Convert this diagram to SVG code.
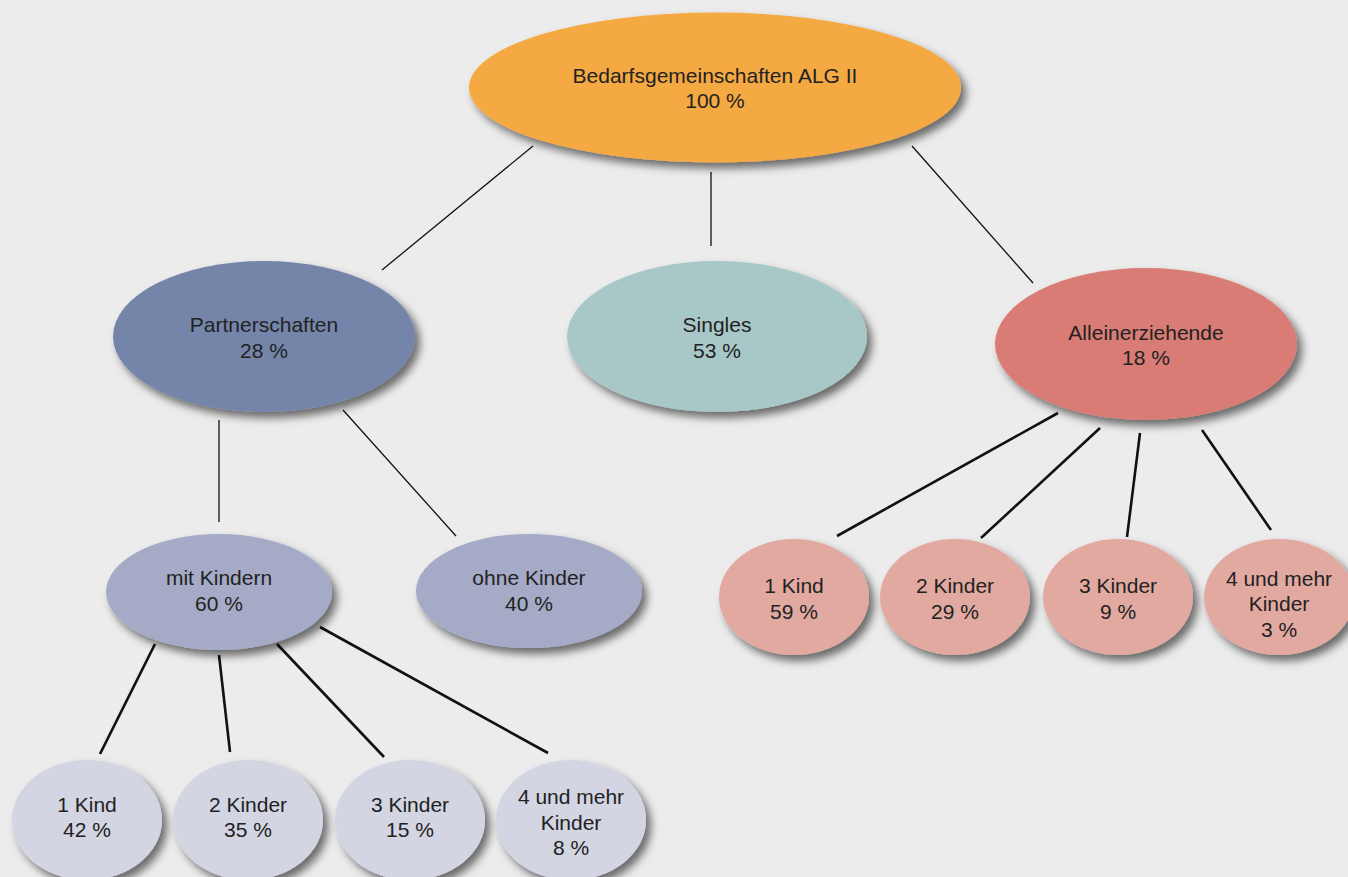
<svg xmlns="http://www.w3.org/2000/svg" width="1348" height="877" viewBox="0 0 1348 877">
<defs>
<filter id="sh" x="-20%" y="-20%" width="150%" height="160%">
<feDropShadow dx="5" dy="6" stdDeviation="4" flood-color="#000" flood-opacity="0.55"/>
</filter>
</defs>
<style>
text{font-family:"Liberation Sans",Arial,sans-serif;font-size:21px;fill:#222;text-anchor:middle}
.thin{stroke:#111;stroke-width:1.3;fill:none}
.thick{stroke:#111;stroke-width:2.6;fill:none}
ellipse{filter:url(#sh)}
</style>
<rect width="1348" height="877" fill="#ececec"/>
<g id="connectors">
<line class="thin" x1="533" y1="146" x2="382" y2="270"/>
<line class="thin" x1="711" y1="172" x2="711" y2="246"/>
<line class="thin" x1="912" y1="146" x2="1033" y2="283"/>
<line class="thin" x1="219" y1="420" x2="219" y2="522"/>
<line class="thin" x1="343" y1="410" x2="456" y2="536"/>
<line class="thick" x1="155" y1="644" x2="100" y2="754"/>
<line class="thick" x1="219" y1="655" x2="230" y2="752"/>
<line class="thick" x1="277" y1="644" x2="384" y2="757"/>
<line class="thick" x1="320" y1="627" x2="548" y2="753"/>
<line class="thick" x1="1058" y1="413" x2="837" y2="536"/>
<line class="thick" x1="1100" y1="428" x2="981" y2="538"/>
<line class="thick" x1="1140" y1="433" x2="1127" y2="537"/>
<line class="thick" x1="1202" y1="430" x2="1271" y2="530"/>
</g>
<g id="root"><ellipse cx="715" cy="87.5" rx="246" ry="75" fill="#f5a943"/><text x="715" y="83">Bedarfsgemeinschaften ALG II</text><text x="715" y="108">100 %</text></g>
<g id="partner"><ellipse cx="264" cy="336.5" rx="151" ry="75.5" fill="#7585aa"/><text x="264" y="332">Partnerschaften</text><text x="264" y="358">28 %</text></g>
<g id="singles"><ellipse cx="717" cy="336.5" rx="150" ry="75.5" fill="#a8c8c8"/><text x="717" y="332">Singles</text><text x="717" y="358">53 %</text></g>
<g id="allein"><ellipse cx="1146" cy="344" rx="151" ry="76" fill="#d97c74"/><text x="1146" y="340">Alleinerziehende</text><text x="1146" y="365">18 %</text></g>
<g id="mit"><ellipse cx="219" cy="592" rx="113" ry="58" fill="#a5abc6"/><text x="219" y="585">mit Kindern</text><text x="219" y="611">60 %</text></g>
<g id="ohne"><ellipse cx="529" cy="591" rx="113" ry="57" fill="#a5abc6"/><text x="529" y="585">ohne Kinder</text><text x="529" y="611">40 %</text></g>
<g id="p1"><ellipse cx="87" cy="820" rx="75" ry="60" fill="#d3d5e3"/><text x="87" y="812">1 Kind</text><text x="87" y="837">42 %</text></g>
<g id="p2"><ellipse cx="248" cy="820" rx="75" ry="60" fill="#d3d5e3"/><text x="248" y="812">2 Kinder</text><text x="248" y="837">35 %</text></g>
<g id="p3"><ellipse cx="410" cy="820" rx="75" ry="60" fill="#d3d5e3"/><text x="410" y="812">3 Kinder</text><text x="410" y="837">15 %</text></g>
<g id="p4"><ellipse cx="571" cy="820" rx="75" ry="60" fill="#d3d5e3"/><text x="571" y="804">4 und mehr</text><text x="571" y="830">Kinder</text><text x="571" y="855">8 %</text></g>
<g id="a1"><ellipse cx="794" cy="597" rx="75" ry="58" fill="#e2a9a0"/><text x="794" y="593">1 Kind</text><text x="794" y="619">59 %</text></g>
<g id="a2"><ellipse cx="955" cy="597" rx="75" ry="58" fill="#e2a9a0"/><text x="955" y="593">2 Kinder</text><text x="955" y="619">29 %</text></g>
<g id="a3"><ellipse cx="1118" cy="597" rx="75" ry="58" fill="#e2a9a0"/><text x="1118" y="593">3 Kinder</text><text x="1118" y="619">9 %</text></g>
<g id="a4"><ellipse cx="1279" cy="597" rx="75" ry="58" fill="#e2a9a0"/><text x="1279" y="586">4 und mehr</text><text x="1279" y="611">Kinder</text><text x="1279" y="637">3 %</text></g>
</svg>
